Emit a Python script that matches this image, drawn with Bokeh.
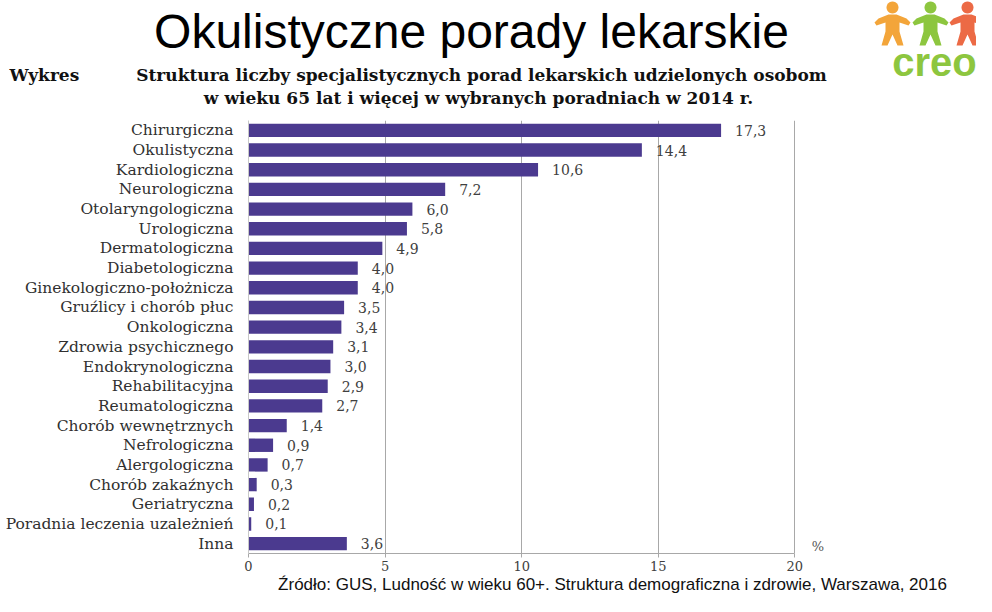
import numpy as np
from bokeh.plotting import figure
from bokeh.layouts import column
from bokeh.models import FixedTicker, FactorRange, Range1d, ColumnDataSource
from bokeh.core.properties import value
from bokeh.embed import file_html
from bokeh.resources import INLINE

# ---- data ----
categories = [
    "Chirurgiczna", "Okulistyczna", "Kardiologiczna", "Neurologiczna",
    "Otolaryngologiczna", "Urologiczna", "Dermatologiczna", "Diabetologiczna",
    "Ginekologiczno-położnicza", "Gruźlicy i chorób płuc", "Onkologiczna",
    "Zdrowia psychicznego", "Endokrynologiczna", "Rehabilitacyjna",
    "Reumatologiczna", "Chorób wewnętrznych", "Nefrologiczna", "Alergologiczna",
    "Chorób zakaźnych", "Geriatryczna", "Poradnia leczenia uzależnień", "Inna",
]
shares = [17.3, 14.4, 10.6, 7.2, 6.0, 5.8, 4.9, 4.0, 4.0, 3.5, 3.4,
          3.1, 3.0, 2.9, 2.7, 1.4, 0.9, 0.7, 0.3, 0.2, 0.1, 3.6]
x_ticks = [0, 5, 10, 15, 20]

title_text = "Okulistyczne porady lekarskie"
sub_label = "Wykres"
sub_line1 = "Struktura liczby specjalistycznych porad lekarskich udzielonych osobom"
sub_line2 = "w wieku 65 lat i więcej w wybranych poradniach w 2014 r."
source_text = "Źródło: GUS, Ludność w wieku 60+. Struktura demograficzna i zdrowie, Warszawa, 2016"
unit_text = "%"
logo_text = "creo"

# ---- styling ----
W = 976
HEAD_H = 112
CHART_H = 596 - HEAD_H
SERIF = "DejaVu Serif"
SANS = "Liberation Sans"
BAR = "#4B3A8F"
GRID = "#A8A8A8"

# ================= header (title, subtitle, logo) =================
head = figure(width=W, height=HEAD_H, output_backend="svg", toolbar_location=None,
              x_range=Range1d(0, W), y_range=Range1d(HEAD_H, 0),
              x_axis_location=None, y_axis_location=None, min_border=0,
              frame_align=False)
head.outline_line_color = None
head.grid.grid_line_color = None


def htext(t, x, y, size, font, style="normal", color="#000000", align="left"):
    head.text(x=[x], y=[y], text=[t], text_align=align, text_baseline="middle",
              text_font=value(font), text_font_size=f"{size}px",
              text_font_style=style, text_color=color)


htext(title_text, 471, 31, 48, SANS, align="center")
htext(sub_label, 9, 74, 17, SERIF, style="bold", color="#111111")
htext(sub_line1, 481, 74, 17, SERIF, style="bold", color="#111111", align="center")
htext(sub_line2, 478, 97, 17, SERIF, style="bold", color="#111111", align="center")

# logo: three little people holding hands + "creo"
body = [(-4, 13), (-14, 17), (-18, 21), (-16, 24), (-7, 21), (-7, 30), (-11, 44),
        (-5, 44), (0, 33), (5, 44), (11, 44), (7, 30), (7, 21), (16, 24),
        (18, 21), (14, 17), (4, 13)]
ang = np.linspace(0, 2 * np.pi, 24, endpoint=False)
pxs, pys, pcols = [], [], []
for cx, col in [(892, "#F3A53A"), (930, "#8DC63F"), (967, "#EC6A45")]:
    top = 1
    pxs.append([cx + bx for bx, by in body]); pys.append([top + by for bx, by in body]); pcols.append(col)
    pxs.append(list(cx + 6 * np.cos(ang))); pys.append(list(top + 6 + 6 * np.sin(ang))); pcols.append(col)
head.patches(xs=pxs, ys=pys, fill_color=pcols, line_color=None)
htext(logo_text, 934, 61, 40, SANS, style="bold", color="#8DC63F", align="center")

# ================= chart =================
FL = 248
X_END = 26.65     # frame reaches the right edge; axis itself stops at 20
p = figure(width=W, height=CHART_H, output_backend="svg", toolbar_location=None,
           y_range=FactorRange(factors=categories[::-1]), x_range=Range1d(0, X_END),
           min_border_left=FL, min_border_right=0,
           min_border_top=8, min_border_bottom=40, frame_align=False)
p.outline_line_color = None
p.background_fill_color = "white"
p.border_fill_color = "white"

src = ColumnDataSource(dict(
    y=categories, x=shares,
    t=[f"{v:.1f}".replace(".", ",") for v in shares]))

p.hbar(y="y", right="x", left=0, height=0.68, source=src,
       fill_color=BAR, line_color=None)
p.text(x="x", y="y", text="t", source=src, x_offset=14,
       text_align="left", text_baseline="middle",
       text_font=value(SERIF), text_font_size="14px", text_color="#404040")

# unit marker "%" just right of the axis end, at the last row
p.text(x=[x_ticks[-1]], y=[categories[-1]], text=[unit_text], x_offset=23, y_offset=3,
       text_align="center", text_baseline="middle",
       text_font=value(SERIF), text_font_size="13px", text_color="#555555")

p.xaxis.ticker = FixedTicker(ticks=x_ticks)
p.xaxis.bounds = (x_ticks[0], x_ticks[-1])
p.xaxis.axis_line_color = GRID
p.xaxis.major_tick_line_color = GRID
p.xaxis.major_tick_out = 4
p.xaxis.major_tick_in = 0
p.xaxis.minor_tick_line_color = None
p.xaxis.major_label_standoff = 3
p.xaxis.major_label_text_font = SERIF
p.xaxis.major_label_text_font_size = "13px"
p.xaxis.major_label_text_color = "#404040"
# source note, centred under the frame
p.xaxis.axis_label = source_text
p.xaxis.axis_label_standoff = 1
p.xaxis.axis_label_text_font = SANS
p.xaxis.axis_label_text_font_size = "17px"
p.xaxis.axis_label_text_font_style = "normal"
p.xaxis.axis_label_text_color = "#111111"

p.yaxis.axis_line_color = "#C8C8C8"
p.yaxis.major_tick_out = 0
p.yaxis.major_tick_in = 0
p.yaxis.minor_tick_line_color = None
p.yaxis.major_label_standoff = 15
p.yaxis.major_label_text_font = SERIF
p.yaxis.major_label_text_font_size = "15.5px"
p.yaxis.major_label_text_color = "#303030"

p.xgrid.grid_line_color = GRID
p.ygrid.grid_line_color = None

layout = column(head, p, spacing=0)
open("out.html", "w").write(file_html(layout, INLINE))
